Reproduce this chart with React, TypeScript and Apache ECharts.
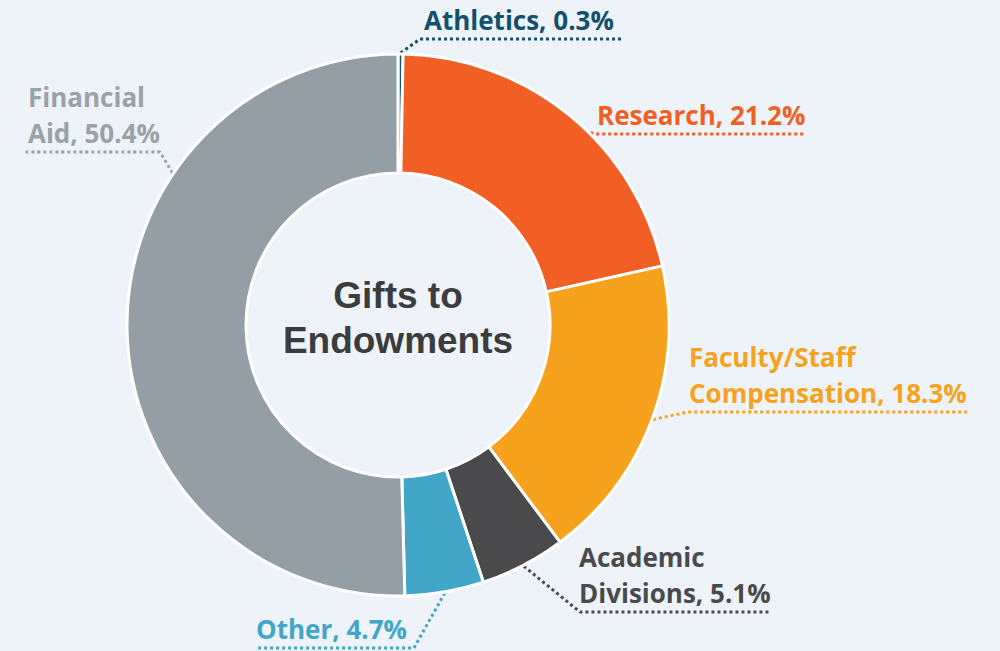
import React, { useEffect, useRef } from "react";
import * as echarts from "echarts";

// ---- data ----
const categories = [
  "Athletics",
  "Research",
  "Faculty/Staff Compensation",
  "Academic Divisions",
  "Other",
  "Financial Aid",
];
const shares = [0.3, 21.2, 18.3, 5.1, 4.7, 50.4];
const sliceColors = ["#12506C", "#F15F24", "#F7A21D", "#4A4A4C", "#41A6C7", "#939FA4"];
const labelColors = ["#12506C", "#F15F24", "#F7A21D", "#4A4A4C", "#41A6C7", "#97A3A8"];
const centerTitle = "Gifts to\nEndowments";

// ---- layout (not data) ----
const CX = 398;
const CY = 325;
const R_IN = 152;
const R_OUT = 271;
// text left x, underline y, underline from -> to, optional leader angle (deg clockwise from top)
const labelPlacement = [
  { x: 424, lineY: 39, from: 420, to: 622 },
  { x: 597, lineY: 134, from: 597, to: 805, leadAngle: 45 },
  { x: 689, lineY: 412, from: 688, to: 967 },
  { x: 579, lineY: 612, from: 580, to: 770 },
  { x: 256, lineY: 648, from: 414, to: 255 },
  { x: 28, lineY: 152, from: 160, to: 25, leadAngle: 304 },
];

const total = shares.reduce((a, b) => a + b, 0);
const midAngles: number[] = [];
{
  let cum = 0;
  shares.forEach((v) => {
    midAngles.push(((cum + v / 2) / total) * 360);
    cum += v;
  });
}

function edgePoint(angleDeg: number): number[] {
  const a = (angleDeg * Math.PI) / 180;
  return [CX + (R_OUT + 1) * Math.sin(a), CY - (R_OUT + 1) * Math.cos(a)];
}

export default function App() {
  const ref = useRef<HTMLDivElement>(null);
  useEffect(() => {
    if (!ref.current) return;
    const chart = echarts.init(ref.current, undefined, { renderer: "svg" });
    const data = categories.map((name, i) => ({
      name,
      value: shares[i],
      itemStyle: { color: sliceColors[i] },
      label: { color: labelColors[i] },
      labelLine: { lineStyle: { color: labelColors[i] } },
    }));
    chart.setOption({
      animation: false,
      backgroundColor: "#EEF3F9",
      graphic: [
        {
          type: "text",
          x: CX,
          y: CY - 7,
          style: {
            text: centerTitle,
            align: "center",
            verticalAlign: "middle",
            fontFamily: "Liberation Sans, Arial, sans-serif",
            fontWeight: "bold",
            fontSize: 37,
            lineHeight: 45,
            fill: "#3B3C3E",
          },
        },
      ],
      series: [
        {
          type: "pie",
          center: [CX, CY],
          radius: [R_IN, R_OUT],
          startAngle: 90,
          clockwise: true,
          avoidLabelOverlap: false,
          emphasis: { disabled: true },
          itemStyle: { borderColor: "#FFFFFF", borderWidth: 3 },
          label: {
            show: true,
            position: "outside",
            fontFamily: "Open Sans, sans-serif",
            fontWeight: "bold",
            fontSize: 26,
            lineHeight: 36,
            formatter: (p: any) => `${p.name.replace(" ", "\n")}, ${p.value}%`,
          },
          labelLine: {
            show: true,
            length: 10,
            length2: 10,
            lineStyle: { width: 3, type: [3, 3] },
          },
          labelLayout: (params: any) => {
            const i = params.dataIndex;
            const lp = labelPlacement[i];
            const start =
              lp.leadAngle != null ? edgePoint(lp.leadAngle) : edgePoint(midAngles[i]);
            return {
              x: lp.x,
              y: lp.lineY - 1,
              align: "left",
              verticalAlign: "bottom",
              labelLinePoints: [start, [lp.from, lp.lineY], [lp.to, lp.lineY]],
            };
          },
          data,
        },
      ],
    });
    return () => chart.dispose();
  }, []);
  return (
    <div
      ref={ref}
      style={{ position: "fixed", left: 0, top: 0, width: 1000, height: 651 }}
    />
  );
}
